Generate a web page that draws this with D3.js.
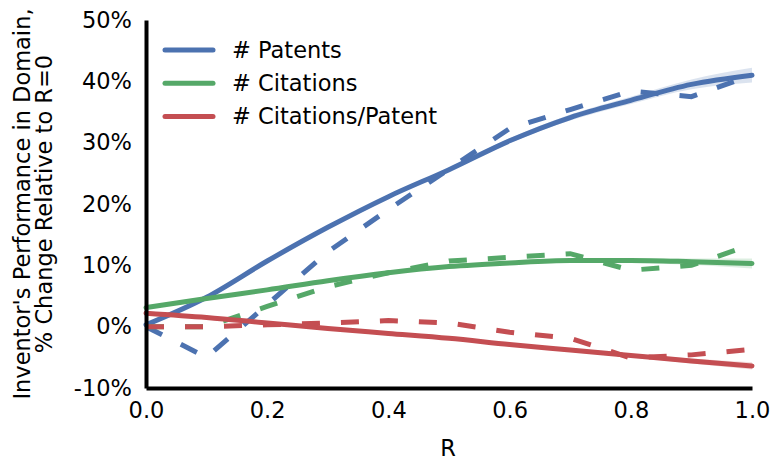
<!DOCTYPE html>
<html>
<style type="text/css">
body{
	margin: 0;
	background: #fff;
}
text{
	font-family: "DejaVu Sans", sans-serif;
	font-size: 22.5px;
	fill: #000;
}
</style>
<head>
</head>
<body>
  <script src="https://d3js.org/d3.v7.min.js"></script>
  <script>
    // R values (x axis), same for all series
    var rValues = [0.0, 0.1, 0.2, 0.3, 0.4, 0.5, 0.6, 0.7, 0.8, 0.9, 1.0];

    // fitted (solid) curves, % change
    var patentsFit   = [0.3, 4.8, 10.7, 16.2, 21.2, 25.6, 30.3, 34.1, 36.9, 39.5, 41.0];
    var citationsFit = [3.1, 4.6, 6.0, 7.5, 8.8, 9.8, 10.4, 10.8, 10.8, 10.6, 10.3];
    var perPatentFit = [2.2, 1.5, 0.6, -0.3, -1.1, -1.9, -2.9, -3.8, -4.7, -5.6, -6.4];

    // half width of the shaded band round each fit
    var patentsCI   = [0.3, 0.3, 0.3, 0.3, 0.3, 0.3, 0.4, 0.5, 0.6, 0.8, 1.2];
    var citationsCI = [0.3, 0.3, 0.2, 0.2, 0.2, 0.2, 0.3, 0.3, 0.4, 0.5, 0.8];
    var perPatentCI = [0.3, 0.2, 0.2, 0.2, 0.2, 0.2, 0.2, 0.3, 0.3, 0.4, 0.6];

    // raw (dashed) values, % change
    var patentsRaw   = [0, -5.0, 3.6, 12.2, 19.1, 25.7, 32.3, 35.4, 38.4, 37.5, 41.0];
    var citationsRaw = [0, 0, 3.3, 6.5, 8.8, 10.7, 11.3, 11.9, 9.2, 10.0, 13.4];
    var perPatentRaw = [0, 0, 0.3, 0.6, 1.0, 0.6, -0.9, -1.9, -5.1, -4.6, -3.7];

    var seriesNames = ["# Patents", "# Citations", "# Citations/Patent"];
    var seriesColors = ["#4C72B0", "#55A868", "#C44E52"];

    var xTicks = [0, 0.2, 0.4, 0.6, 0.8, 1.0];
    var yTicks = [-10, 0, 10, 20, 30, 40, 50];

    var width = 771, height = 461;

    var svg = d3.select("body").append("svg")
        .attr("width", width)
        .attr("height", height);

    var x = d3.scaleLinear().domain([0, 1]).range([146, 752]);
    var y = d3.scaleLinear().domain([-10, 50]).range([388, 20]);

    var series = [
      {fit: patentsFit, ci: patentsCI, raw: patentsRaw},
      {fit: citationsFit, ci: citationsCI, raw: citationsRaw},
      {fit: perPatentFit, ci: perPatentCI, raw: perPatentRaw}
    ];

    var smooth = d3.line()
        .x(function(d){ return x(d[0]); })
        .y(function(d){ return y(d[1]); })
        .curve(d3.curveMonotoneX);

    var straight = d3.line()
        .x(function(d){ return x(d[0]); })
        .y(function(d){ return y(d[1]); });

    var band = d3.area()
        .x(function(d){ return x(d[0]); })
        .y0(function(d){ return y(d[1] - d[2]); })
        .y1(function(d){ return y(d[1] + d[2]); })
        .curve(d3.curveMonotoneX);

    var plot = svg.append("g");

    for (var i = 0; i < series.length; i++){
      var s = series[i];
      var fitPts = rValues.map(function(r, k){ return [r, s.fit[k], s.ci[k]]; });
      var rawPts = rValues.map(function(r, k){ return [r, s.raw[k]]; });

      plot.append("path")
          .attr("d", band(fitPts))
          .style("fill", seriesColors[i])
          .style("fill-opacity", 0.2)
          .style("stroke", "none");

      plot.append("path")
          .attr("d", smooth(fitPts))
          .style("fill", "none")
          .style("stroke", seriesColors[i])
          .style("stroke-width", 5)
          .style("stroke-linecap", "round");

      plot.append("path")
          .attr("d", straight(rawPts))
          .style("fill", "none")
          .style("stroke", seriesColors[i])
          .style("stroke-width", 5)
          .style("stroke-dasharray", "18,21");
    }

    // axes: no tick marks, only labels
    var xAxis = svg.append("g")
        .attr("transform", "translate(0,388)")
        .call(d3.axisBottom(x).tickValues(xTicks).tickSize(0).tickPadding(14)
              .tickFormat(d3.format(".1f")));
    var yAxis = svg.append("g")
        .attr("transform", "translate(146,0)")
        .call(d3.axisLeft(y).tickValues(yTicks).tickSize(0).tickPadding(14)
              .tickFormat(function(d){ return d + "%"; }));

    xAxis.selectAll("text").style("font-size", "22.5px").style("font-family", "DejaVu Sans");
    yAxis.selectAll("text").style("font-size", "22.5px").style("font-family", "DejaVu Sans");
    xAxis.select(".domain").style("stroke", "#000").style("stroke-width", 4);
    yAxis.select(".domain").style("stroke", "#000").style("stroke-width", 4);

    // axis titles
    svg.append("text")
        .attr("x", 448)
        .attr("y", 456)
        .attr("text-anchor", "middle")
        .text("R");

    var yTitle = svg.append("text")
        .attr("transform", "translate(30,204) rotate(-90)")
        .attr("text-anchor", "middle");
    yTitle.append("tspan").attr("x", 0).attr("y", 0).text("Inventor's Performance in Domain,");
    yTitle.append("tspan").attr("x", 0).attr("y", 22).text("% Change Relative to R=0");

    // legend
    var legend = svg.append("g");
    for (var j = 0; j < seriesNames.length; j++){
      var ly = 50 + j * 33.3;
      legend.append("line")
          .attr("x1", 165).attr("x2", 213)
          .attr("y1", ly).attr("y2", ly)
          .style("stroke", seriesColors[j])
          .style("stroke-width", 5)
          .style("stroke-linecap", "round");
      legend.append("text")
          .attr("x", 232)
          .attr("y", ly)
          .attr("dy", "0.35em")
          .text(seriesNames[j]);
    }
  </script>
</body>
</html>
